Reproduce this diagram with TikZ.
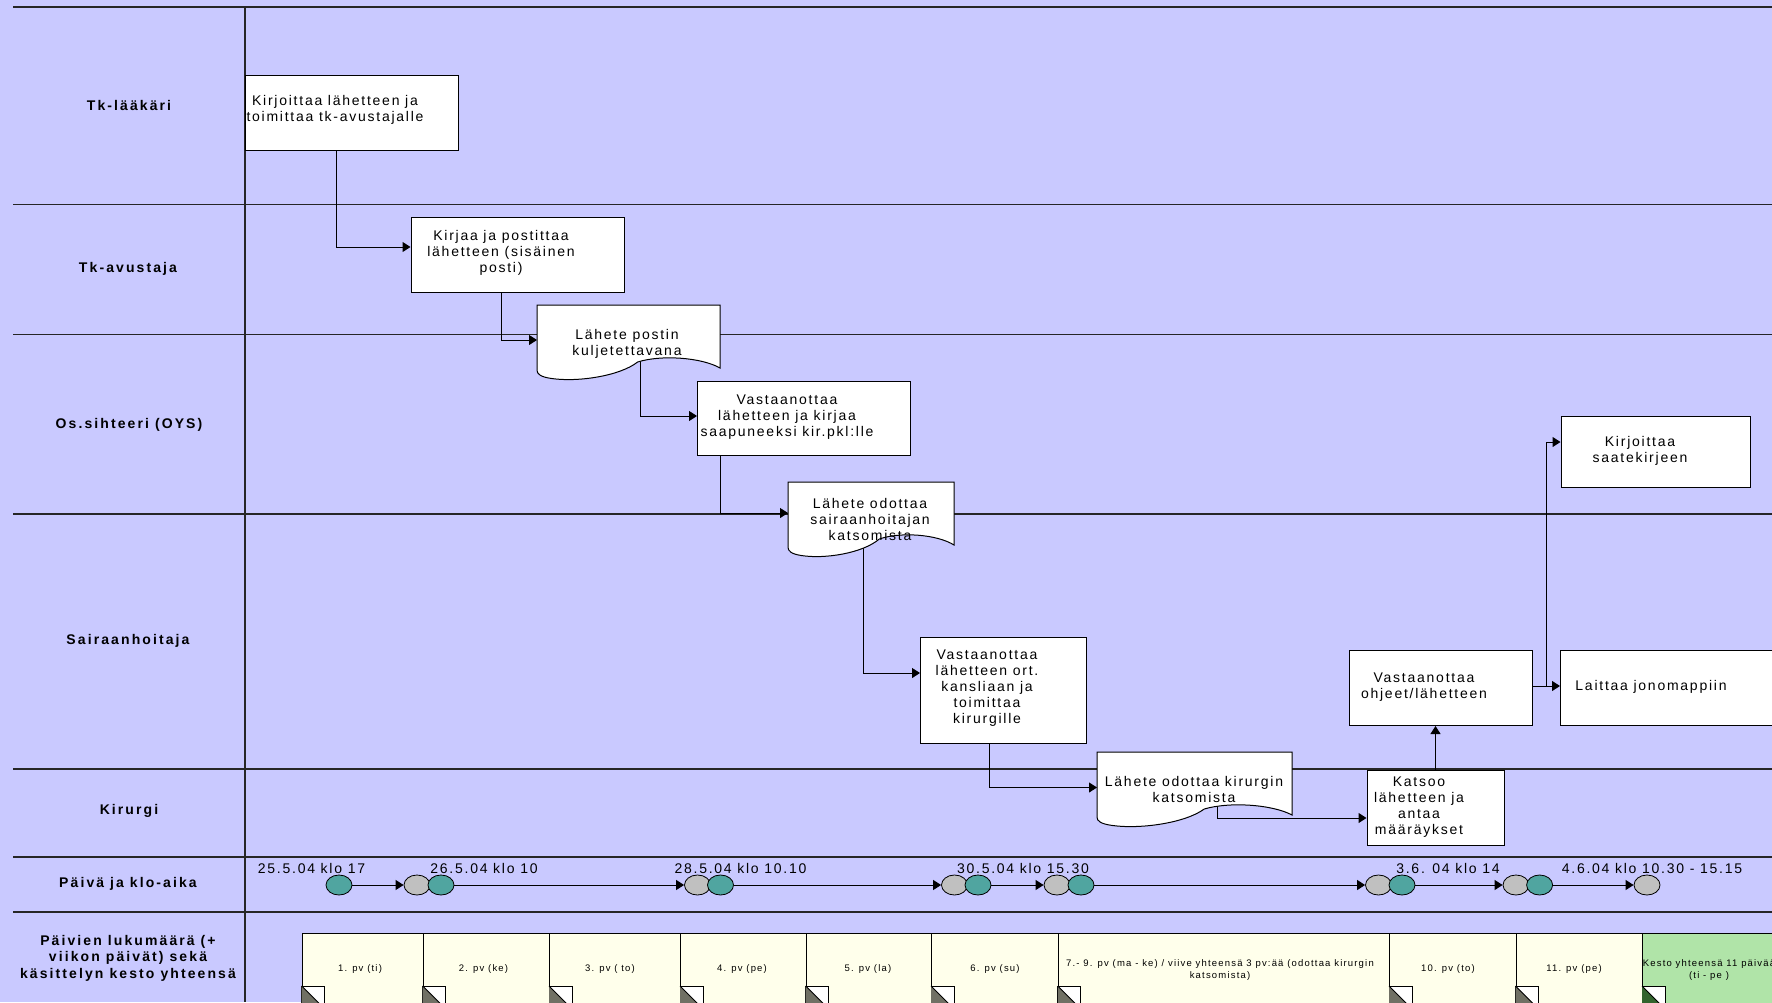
\documentclass[tikz,border=0pt]{standalone}
\usepackage{fontspec}
\setmainfont{Liberation Sans}
\newfontfamily\boxfont{Liberation Sans}[LetterSpace=12.5]
\newfontfamily\lanefont{Liberation Sans}[LetterSpace=15]
\newfontfamily\timefont{Liberation Sans}[LetterSpace=12.5]
\usetikzlibrary{arrows.meta,shapes.geometric}
\pgfdeclarelayer{back}
\pgfdeclarelayer{mid}
\pgfsetlayers{back,mid,main}
\definecolor{lane}{RGB}{201,201,255}
\definecolor{dayfill}{RGB}{255,255,235}
\definecolor{greenfill}{RGB}{176,228,168}
\definecolor{tealdotc}{RGB}{80,165,160}
\definecolor{graydotc}{RGB}{192,192,192}
\definecolor{cornergray}{RGB}{112,112,100}
\definecolor{cornergreen}{RGB}{50,100,45}
% document shape: name, x0, y0, w, h
\newcommand\docshape[5]{%
  \node[inner sep=0,minimum width=#4,minimum height=#5,anchor=north west] (#1) at (#2,#3) {};
  \draw[line width=1pt,fill=white] (#2,#3) -- ({#2+#4},#3) -- ({#2+#4},{#3+0.84*#5})
    .. controls ({#2+0.9*#4},{#3+0.70*#5}) and ({#2+0.68*#4},{#3+0.66*#5}) .. ({#2+0.55*#4},{#3+0.76*#5})
    .. controls ({#2+0.45*#4},{#3+0.95*#5}) and ({#2+0.22*#4},{#3+1.03*#5}) .. ({#2+0.08*#4},{#3+0.98*#5})
    .. controls ({#2+0.02*#4},{#3+0.96*#5}) and (#2,{#3+0.92*#5}) .. (#2,{#3+0.87*#5}) -- cycle;}
% corner icon of a day box: x, colour
\newcommand\daycorner[2]{%
  \draw[line width=1pt,fill=white] (#1,986) rectangle ({#1+23},1012);
  \fill[#2] (#1,986) -- ({#1+23},1009) -- ({#1+23},1012) -- (#1,1012) -- cycle;
  \draw[line width=0.8pt] (#1,986) -- ({#1+23},1009);}
\begin{document}
\begin{tikzpicture}[x=1pt,y=-1pt,
  lanelabel/.style={font=\lanefont\bfseries\fontsize{14}{16.5}\selectfont,align=center,inner sep=0},
  proc/.style={draw=black,fill=white,line width=1pt,inner sep=0,anchor=north west},
  txt/.style={font=\boxfont\fontsize{14}{16}\selectfont,align=center,inner sep=0},
  tl/.style={font=\timefont\fontsize{14}{16}\selectfont,inner sep=0},
  daybox/.style={draw=black,fill=dayfill,line width=1pt,inner sep=0,anchor=north west,minimum height=90},
  daytxt/.style={font=\boxfont\fontsize{9.5}{12.5}\selectfont,align=center,inner sep=0},
  conn/.style={line width=1pt,-{Triangle[length=8pt,width=10pt]}},
  sep/.style={line width=1.2pt,draw=black!85},
  dot/.style={ellipse,draw=black,line width=0.8pt,minimum width=26,minimum height=20,inner sep=0},
  tealdot/.style={dot,fill=tealdotc},
  graydot/.style={dot,fill=graydotc}]
\path[use as bounding box] (0,0) rectangle (1772,1002);
\clip (0,0) rectangle (1772,1002);
\begin{pgfonlayer}{back}
\fill[lane] (0,0) rectangle (1772,1002);
\draw[sep] (13,7) -- (1772,7);
\draw[sep] (13,204.5) -- (1772,204.5);
\draw[sep] (13,334.5) -- (1772,334.5);
\draw[sep] (13,514) -- (1772,514);
\draw[sep] (13,769) -- (1772,769);
\draw[sep] (13,857) -- (1772,857);
\draw[sep] (13,912) -- (1772,912);
\draw[sep] (245,7) -- (245,1002);
\end{pgfonlayer}
% lane labels
\node[lanelabel] (L1) at (129,105) {Tk-lääkäri};
\node[lanelabel] (L2) at (128,269) {Tk-avustaja};
\node[lanelabel] (L3) at (129,425) {Os.sihteeri (OYS)};
\node[lanelabel] (L4) at (128,641) {Sairaanhoitaja};
\node[lanelabel] (L5) at (129,811) {Kirurgi};
\node[lanelabel] (L6) at (128,884) {Päivä ja klo-aika};
\node[lanelabel] (L7) at (128,958) {Päivien lukumäärä (+\\viikon päivät) sekä\\käsittelyn kesto yhteensä};
% process boxes and documents
\node[proc,minimum width=213,minimum height=75] (b1) at (245,75) {};
\node[proc,minimum width=213,minimum height=75] (b2) at (410.5,217) {};
\docshape{d3}{537}{305}{183}{75}
\node[proc,minimum width=213,minimum height=74] (b4) at (697,381) {};
\docshape{d5}{788}{482}{166}{75}
\node[proc,minimum width=166,minimum height=106] (b6) at (920,637) {};
\docshape{d7}{1097}{752}{195}{75}
\node[proc,minimum width=137,minimum height=75] (k) at (1366.5,770) {};
\node[proc,minimum width=183,minimum height=75] (vo) at (1349,650) {};
\node[proc,minimum width=189,minimum height=71] (ks) at (1560.5,416) {};
\node[proc,minimum width=240,minimum height=75] (lj) at (1560,650) {};
% texts
\node[txt] (t1) at (335,110) {Kirjoittaa lähetteen ja\\toimittaa tk-avustajalle};
\node[txt] (t2) at (501,253) {Kirjaa ja postittaa\\lähetteen (sisäinen\\posti)};
\node[txt] (t3) at (627,344) {Lähete postin\\kuljetettavana};
\node[txt] (t4) at (787,417) {Vastaanottaa\\lähetteen ja kirjaa\\saapuneeksi kir.pkl:lle};
\node[txt] (t5) at (870,519) {Lähete odottaa\\sairaanhoitajan\\katsomista};
\node[txt] (t6) at (987,688) {Vastaanottaa\\lähetteen ort.\\kansliaan ja\\toimittaa\\kirurgille};
\node[txt] (t7) at (1194,789) {Lähete odottaa kirurgin\\katsomista};
\node[txt] (tk) at (1419,807.5) {Katsoo\\lähetteen ja\\antaa\\määräykset};
\node[txt] (tvo) at (1424,687) {Vastaanottaa\\ohjeet/lähetteen};
\node[txt] (tks) at (1640,450.5) {Kirjoittaa\\saatekirjeen};
\node[txt] (tlj) at (1651,687) {Laittaa jonomappiin};
% connectors
\coordinate (j1) at (336,247);
\coordinate (j2) at (501.6,340);
\coordinate (j3) at (640,416);
\coordinate (j4) at (720,513);
\coordinate (j5) at (863,673);
\coordinate (j6) at (989,787.5);
\coordinate (j7) at (1217.6,818);
\coordinate (j9) at (1546,686);
\coordinate (j10) at (1546,442);
\begin{pgfonlayer}{mid}
\draw[conn] (b1.south -| j1) |- (b2.west |- j1);
\draw[conn] (b2.south -| j2) |- (d3.west |- j2);
\draw[conn] (d3.center -| j3) |- (b4.west |- j3);
\draw[conn] (b4.south -| j4) |- (d5.west |- j4);
\draw[conn] (d5.center -| j5) |- (b6.west |- j5);
\draw[conn] (b6.south -| j6) |- (d7.west |- j6);
\draw[conn] (d7.center -| j7) |- (k.west |- j7);
\draw[conn] (k.north) -- (k.north |- vo.south);
\draw[conn] (vo.east |- j9) -- (lj.west |- j9);
\draw[conn] (j9) |- (ks.west |- j10);
\end{pgfonlayer}
% time line
\node[tealdot] (e1) at (339,885) {};
\node[graydot] (g2) at (417,885) {};
\node[tealdot] (e2) at (441,885) {};
\node[graydot] (g3) at (697.5,885) {};
\node[tealdot] (e3) at (720.5,885) {};
\node[graydot] (g4) at (954.5,885) {};
\node[tealdot] (e4) at (978,885) {};
\node[graydot] (g5) at (1057,885) {};
\node[tealdot] (e5) at (1081,885) {};
\node[graydot] (g6) at (1378.5,885) {};
\node[tealdot] (e6) at (1402,885) {};
\node[graydot] (g7) at (1516,885) {};
\node[tealdot] (e7) at (1539.6,885) {};
\node[graydot] (g8) at (1647,885) {};
\draw[conn] (e1.east) -- (g2.west);
\draw[conn] (e2.east) -- (g3.west);
\draw[conn] (e3.east) -- (g4.west);
\draw[conn] (e4.east) -- (g5.west);
\draw[conn] (e5.east) -- (g6.west);
\draw[conn] (e6.east) -- (g7.west);
\draw[conn] (e7.east) -- (g8.west);
\node[tl] (l1) at (311.5,868) {25.5.04 klo 17};
\node[tl] (l2) at (484,868) {26.5.04 klo 10};
\node[tl] (l3) at (740.5,868) {28.5.04 klo 10.10};
\node[tl] (l4) at (1023,868) {30.5.04 klo 15.30};
\node[tl] (l5) at (1448,868) {3.6. 04 klo 14};
\node[tl] (l6) at (1652,868) {4.6.04 klo 10.30 - 15.15};
% day boxes
\node[daybox,minimum width=121] (p1) at (301.7,933) {};
\node[daybox,minimum width=126.3] (p2) at (422.7,933) {};
\node[daybox,minimum width=131] (p3) at (549,933) {};
\node[daybox,minimum width=125.7] (p4) at (680,933) {};
\node[daybox,minimum width=125.3] (p5) at (805.7,933) {};
\node[daybox,minimum width=126.8] (p6) at (931,933) {};
\node[daybox,minimum width=331.2] (p7) at (1057.8,933) {};
\node[daybox,minimum width=126.5] (p8) at (1389,933) {};
\node[daybox,minimum width=126.5] (p9) at (1515.5,933) {};
\node[daybox,fill=greenfill,minimum width=134] (p10) at (1642,933) {};
\daycorner{301.7}{cornergray}
\daycorner{422.7}{cornergray}
\daycorner{549}{cornergray}
\daycorner{680}{cornergray}
\daycorner{805.7}{cornergray}
\daycorner{931}{cornergray}
\daycorner{1057.8}{cornergray}
\daycorner{1389}{cornergray}
\daycorner{1515.5}{cornergray}
\daycorner{1642}{cornergreen}
\node[daytxt] (q1) at (360,969) {1. pv (ti)};
\node[daytxt] (q2) at (483.5,969) {2. pv (ke)};
\node[daytxt] (q3) at (610,969) {3. pv ( to)};
\node[daytxt] (q4) at (742,969) {4. pv (pe)};
\node[daytxt] (q5) at (868,969) {5. pv (la)};
\node[daytxt] (q6) at (995,969) {6. pv (su)};
\node[daytxt] (q7) at (1220,970) {7.- 9. pv (ma - ke) / viive yhteensä 3 pv:ää (odottaa kirurgin\\katsomista)};
\node[daytxt] (q8) at (1448,969) {10. pv (to)};
\node[daytxt] (q9) at (1574,969) {11. pv (pe)};
\node[daytxt] (q10) at (1709,970) {Kesto yhteensä 11 päivää\\(ti - pe )};
\end{tikzpicture}
\end{document}
